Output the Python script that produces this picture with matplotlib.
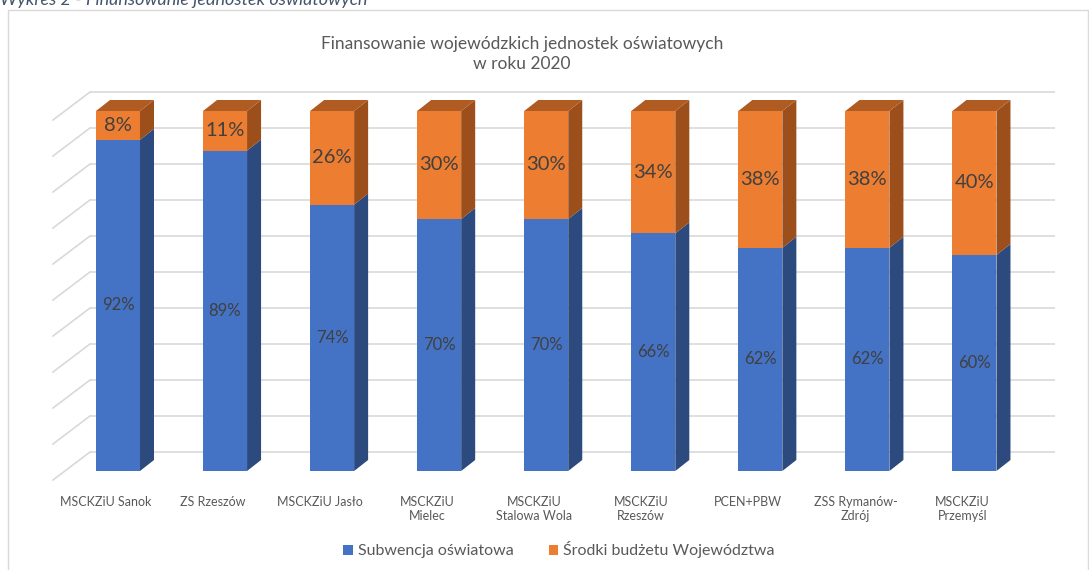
import matplotlib
matplotlib.use("Agg")
import matplotlib.pyplot as plt
from matplotlib.patches import Polygon, Rectangle, Patch

plt.rcParams['font.family'] = ['Lato', 'DejaVu Sans']

categories = ["MSCKZiU Sanok", "ZS Rzeszów", "MSCKZiU Jasło", "MSCKZiU\nMielec",
              "MSCKZiU\nStalowa Wola", "MSCKZiU\nRzeszów", "PCEN+PBW",
              "ZSS Rymanów-\nZdrój", "MSCKZiU\nPrzemyśl"]
subwencja = [92, 89, 74, 70, 70, 66, 62, 62, 60]
srodki = [8, 11, 26, 30, 30, 34, 38, 38, 40]
series_names = ["Subwencja oświatowa", "Środki budżetu Województwa"]
title = "Finansowanie wojewódzkich jednostek oświatowych\nw roku 2020"
caption = "Wykres 2 - Finansowanie jednostek oświatowych"
yticks = list(range(0, 101, 10))

W, H = 1089, 570
fig = plt.figure(figsize=(W / 100, H / 100), dpi=100)
ax = fig.add_axes([0, 0, 1, 1])
ax.set_axis_off()

# pixel scale of the plotting frame
px_cat = 107.06   # pixels per category
px_pct = 3.6      # pixels per percent
x0_px = 118       # centre of first bar
y0_px = 471       # 0% of bar front plane (from top)
ax.set_xlim((0 - x0_px) / px_cat, (W - x0_px) / px_cat)
ax.set_ylim((y0_px - H) / px_pct, y0_px / px_pct)

def dxy(px, py):
    return px / px_cat, -py / px_pct

wall_dx, wall_dy = dxy(25, -19)
floor_dx, floor_dy = dxy(-12, 9)
bar_dx, bar_dy = dxy(14, -11)
bar_w = 44 / px_cat
wall_left = (90 - x0_px) / px_cat
wall_right = (1055 - x0_px) / px_cat

grid_c = "#D9D9D9"
for t in yticks:
    yb = t + wall_dy
    ax.plot([wall_left, wall_right], [yb, yb], color=grid_c, lw=1.2, zorder=1,
            solid_capstyle='butt')
    xf = wall_left - wall_dx + floor_dx
    ax.plot([wall_left, xf], [yb, t + floor_dy], color=grid_c, lw=1.2, zorder=1)

blue, blue_side = "#4472C4", "#2C4A7E"
orange, orange_side, orange_top = "#ED7D31", "#9C4F1B", "#B05B22"

def face_front(x, a, b, c):
    ax.add_patch(Polygon([(x - bar_w / 2, a), (x + bar_w / 2, a),
                          (x + bar_w / 2, b), (x - bar_w / 2, b)],
                         closed=True, fc=c, ec='none', zorder=3))

def face_side(x, a, b, c):
    xr = x + bar_w / 2
    ax.add_patch(Polygon([(xr, a), (xr + bar_dx, a + bar_dy),
                          (xr + bar_dx, b + bar_dy), (xr, b)],
                         closed=True, fc=c, ec='none', zorder=2))

def face_top(x, a, c):
    ax.add_patch(Polygon([(x - bar_w / 2, a), (x + bar_w / 2, a),
                          (x + bar_w / 2 + bar_dx, a + bar_dy),
                          (x - bar_w / 2 + bar_dx, a + bar_dy)],
                         closed=True, fc=c, ec='none', zorder=2))

lab_c = "#404040"
for i, (s, o) in enumerate(zip(subwencja, srodki)):
    tot = s + o
    face_side(i, 0, s, blue_side)
    face_side(i, s, tot, orange_side)
    face_top(i, tot, orange_top)
    face_front(i, 0, s, blue)
    face_front(i, s, tot, orange)
    ax.text(i, s / 2, f"{s}%", ha='center', va='center', fontsize=12,
            color=lab_c, zorder=5)
    ax.text(i, s + o / 2, f"{o}%", ha='center', va='center', fontsize=14.5,
            color=lab_c, zorder=5)
    ax.text(i + floor_dx, floor_dy - 4.4, categories[i], ha='center', va='top',
            fontsize=9, color="#595959", linespacing=1.2, zorder=5)

fig.text(522 / W, 1 - 36 / H, title, ha='center', va='top', fontsize=12.5,
         color="#595959", linespacing=1.3)

fig.text(0.0, 1 - 5 / H, caption, ha='left', va='baseline', fontsize=13,
         style='italic', color="#44546A")

fig.patches.append(Rectangle((8 / W, -0.05), (1088 - 8) / W, 1 - 10 / H + 0.05,
                             transform=fig.transFigure, fill=False,
                             ec="#D9D9D9", lw=1))

handles = [Patch(fc=blue, ec='none'), Patch(fc=orange, ec='none')]
fig.legend(handles, series_names, loc='center', bbox_to_anchor=(559 / W, 1 - 550 / H),
           ncol=2, frameon=False, fontsize=11.5, handlelength=0.6, handleheight=0.6,
           handletextpad=0.3, columnspacing=2.2, labelcolor="#595959")

fig.savefig("out.png", dpi=100)
